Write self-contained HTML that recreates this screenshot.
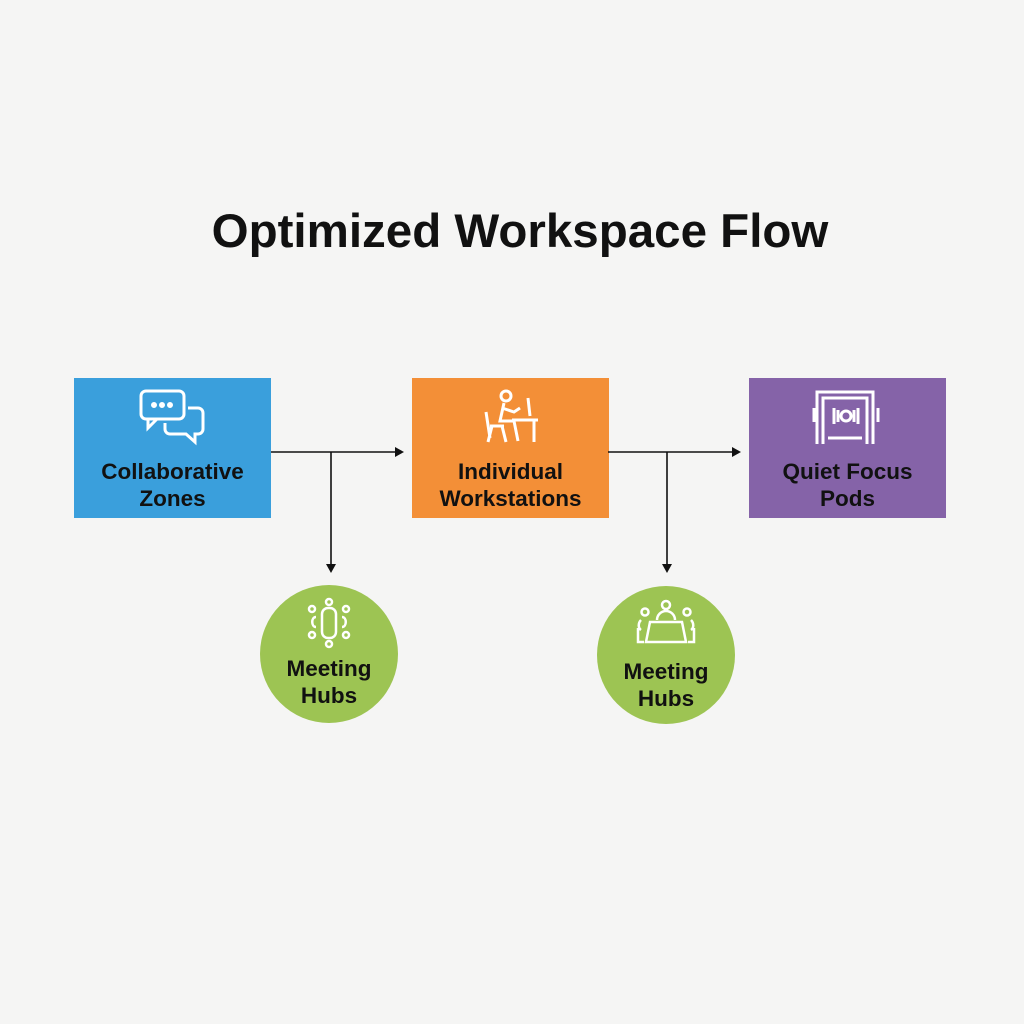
<!DOCTYPE html>
<html><head><style>
body{margin:0;width:1024px;height:1024px;background:#f5f5f4;position:relative;font-family:"Liberation Sans",sans-serif;overflow:hidden}
.t{position:absolute;left:8px;width:1024px;top:204px;text-align:center;font-size:47.5px;font-weight:bold;color:#111}
.b{position:absolute;top:378px;width:197px;height:140px;box-sizing:border-box}
.c{position:absolute;width:138px;height:138px;border-radius:50%;background:#9dc453}
.l{position:absolute;width:100%;text-align:center;font-size:22.5px;font-weight:bold;color:#111;line-height:27px}
svg.i{position:absolute}
</style></head><body>
<div class="t">Optimized Workspace Flow</div>
<div class="b" style="left:74px;background:#3a9fdc">
<svg class="i" style="left:64px;top:10px" width="70" height="60" viewBox="0 0 70 60" fill="none" stroke="#fff" stroke-width="3"><rect x="3" y="3" width="43" height="28" rx="5"/><path d="M10 31v9l9-9"/><path d="M50 20h10a5 5 0 0 1 5 5v16a5 5 0 0 1-5 5h-3v8l-9-8H32a5 5 0 0 1-5-5v-6"/><circle cx="16" cy="17" r="1.5" fill="#fff"/><circle cx="24" cy="17" r="1.5" fill="#fff"/><circle cx="32" cy="17" r="1.5" fill="#fff"/></svg>
<div class="l" style="top:80px">Collaborative<br>Zones</div></div>
<div class="b" style="left:412px;background:#f38f37">
<svg class="i" style="left:70px;top:8px" width="60" height="64" viewBox="0 0 60 64" fill="none" stroke="#fff" stroke-width="3"><circle cx="24" cy="10" r="5"/><path d="M22 17l-4 18h14l4 20M20 22l12 4 6-4"/><path d="M4 26l4 26M8 40h14M10 40l-4 16M20 40l4 16"/><path d="M30 34h26M52 34v22M46 12l2 18"/></svg>
<div class="l" style="top:80px">Individual<br>Workstations</div></div>
<div class="b" style="left:749px;background:#8563a8">
<svg class="i" style="left:60px;top:10px" width="74" height="58" viewBox="0 0 74 58" fill="none" stroke="#fff" stroke-width="3"><path d="M8 56V4h56v52M14 56V10h44v46M19 50h34"/><path d="M5 20v14M69 20v14M25 20v16M29 22v12M49 20v16M45 22v12"/><circle cx="37" cy="28" r="5"/></svg>
<div class="l" style="top:80px">Quiet Focus<br>Pods</div></div>
<svg style="position:absolute;left:0;top:0" width="1024" height="1024">
<g stroke="#111" stroke-width="1.6" fill="none"><path d="M271 452H396M331 452V566M608 452H733M667 452V566"/></g>
<g fill="#111"><path d="M404 452l-9-5v10z"/><path d="M741 452l-9-5v10z"/><path d="M331 573l-5-9h10z"/><path d="M667 573l-5-9h10z"/></g>
</svg>
<div class="c" style="left:260px;top:585px">
<svg class="i" style="left:46px;top:12px" width="46" height="52" viewBox="0 0 46 52" fill="none" stroke="#fff" stroke-width="2.5"><circle cx="23" cy="5" r="3"/><circle cx="23" cy="47" r="3"/><circle cx="6" cy="12" r="3"/><circle cx="40" cy="12" r="3"/><circle cx="6" cy="38" r="3"/><circle cx="40" cy="38" r="3"/><rect x="16" y="11" width="14" height="30" rx="6"/><path d="M10 20c-5 0-5 10 0 10M36 20c5 0 5 10 0 10"/></svg>
<div class="l" style="top:70px">Meeting<br>Hubs</div></div>
<div class="c" style="left:597px;top:586px">
<svg class="i" style="left:38px;top:12px" width="62" height="48" viewBox="0 0 62 48" fill="none" stroke="#fff" stroke-width="2.5"><circle cx="31" cy="7" r="4"/><circle cx="10" cy="14" r="3.5"/><circle cx="52" cy="14" r="3.5"/><path d="M22 22a9 9 0 0 1 18 0M15 24h32l4 20H11z"/><path d="M6 22c-3 3-3 8 0 10M56 22c3 3 3 8 0 10M3 30v14h6M59 30v14h-6"/></svg>
<div class="l" style="top:72px">Meeting<br>Hubs</div></div>
</body></html>
